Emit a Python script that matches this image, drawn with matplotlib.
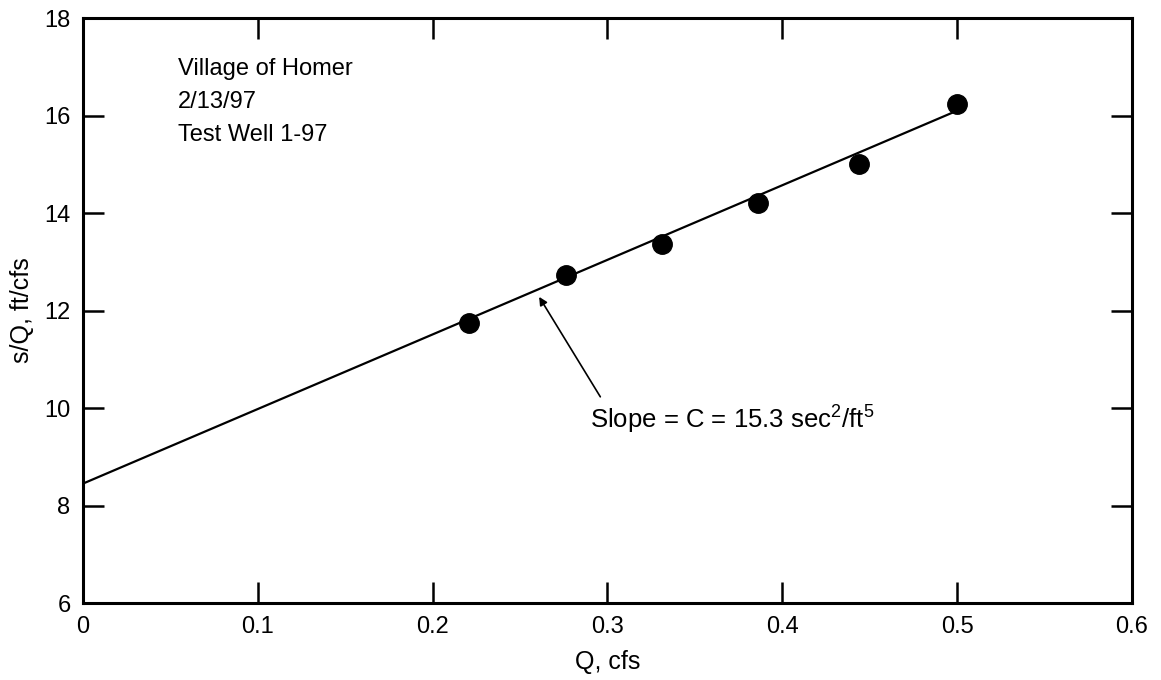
import matplotlib
matplotlib.use("Agg")
import matplotlib.pyplot as plt
import numpy as np

plt.rcParams['font.family'] = ['Liberation Sans', 'DejaVu Sans']
plt.rcParams['mathtext.fontset'] = 'custom'
plt.rcParams['mathtext.rm'] = 'Liberation Sans'

# Step-drawdown test: specific drawdown vs discharge
q_cfs = [0.221, 0.276, 0.331, 0.386, 0.444, 0.500]
s_over_q = [11.74, 12.73, 13.36, 14.21, 15.00, 16.24]

# Fitted straight line s/Q = B + C*Q
intercept_b = 8.45
slope_c = 15.3
fit_q = [0.0, 0.5]

x_ticks = [0, 0.1, 0.2, 0.3, 0.4, 0.5, 0.6]
x_tick_labels = ["0", "0.1", "0.2", "0.3", "0.4", "0.5", "0.6"]
y_ticks = [6, 8, 10, 12, 14, 16, 18]

fig = plt.figure(figsize=(11.61, 6.80), dpi=100)
ax = fig.add_axes([0.0715, 0.1132, 0.9035, 0.8603])

fit_line = [intercept_b + slope_c * q for q in fit_q]
ax.plot(fit_q, fit_line, color='black', lw=1.6, zorder=2)
ax.plot(q_cfs, s_over_q, 'o', color='black', markersize=14, zorder=3)

ax.set_xlim(0, 0.6)
ax.set_ylim(6, 18)
ax.set_xticks(x_ticks)
ax.set_xticklabels(x_tick_labels)
ax.set_yticks(y_ticks)

for side in ax.spines.values():
    side.set_linewidth(2.2)

ax.tick_params(which='both', direction='in', length=15, width=1.8,
               top=True, right=True, labelsize=17, pad=9)

ax.set_xlabel("Q, cfs", fontsize=18, labelpad=9)
ax.set_ylabel("s/Q, ft/cfs", fontsize=18, labelpad=7)

ax.text(0.0545, 17.19, "Village of Homer\n2/13/97\nTest Well 1-97",
        fontsize=17, va='top', ha='left', linespacing=1.65)

# Arrow pointing at the fitted line, with its label beneath
ax.annotate("", xy=(0.2609, 12.28), xytext=(0.2959, 10.23),
            arrowprops=dict(arrowstyle='-|>', color='black', lw=1.2,
                            mutation_scale=12, shrinkA=0, shrinkB=0))
ax.text(0.2901, 9.79, r"Slope = C = 15.3 sec$^{\mathrm{2}}$/ft$^{\mathrm{5}}$",
        fontsize=18.5, ha='left', va='center')

fig.savefig("out.png", dpi=100, facecolor='white')
